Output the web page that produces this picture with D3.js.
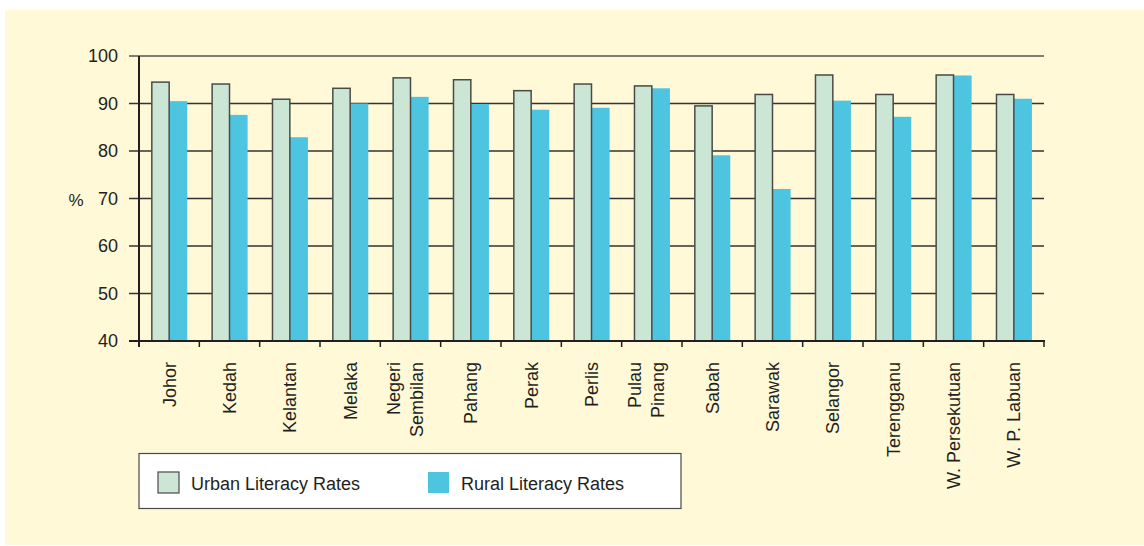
<!DOCTYPE html>
<html>
<head>
<meta charset="utf-8">
<script src="https://cdn.jsdelivr.net/npm/d3@7"></script>
<style>
  html, body { margin: 0; padding: 0; background: #ffffff; }
  svg text { font-family: "Liberation Sans", Arial, sans-serif; fill: #231f20; }
</style>
</head>
<body>
<script>
// literacy rates by state
var states = ["Johor", "Kedah", "Kelantan", "Melaka", "Negeri Sembilan", "Pahang", "Perak",
  "Perlis", "Pulau Pinang", "Sabah", "Sarawak", "Selangor", "Terengganu", "W. Persekutuan", "W. P. Labuan"];
var urban = [94.5, 94.1, 90.9, 93.2, 95.4, 95.0, 92.7, 94.1, 93.7, 89.5, 91.9, 96.0, 91.9, 96.0, 91.9];
var rural = [90.5, 87.6, 82.9, 90.0, 91.4, 89.9, 88.7, 89.1, 93.2, 79.1, 72.0, 90.6, 87.2, 95.9, 91.0];
var yTicks = [40, 50, 60, 70, 80, 90, 100];
var series = ["Urban Literacy Rates", "Rural Literacy Rates"];

var W = 1144, H = 546;
var plotLeft = 139, plotRight = 1044, plotTop = 56, plotBottom = 341;
var urbanFill = "#cce6d5", ruralFill = "#4dc4e0";

var svg = d3.select("body").append("svg")
    .attr("width", W)
    .attr("height", H);

// cream panel
svg.append("rect")
    .attr("x", 5).attr("y", 10)
    .attr("width", W - 5).attr("height", 535)
    .attr("fill", "#fff9d7");

var x = d3.scaleBand()
    .domain(states)
    .range([plotLeft, plotRight])
    .paddingInner(0.4)
    .paddingOuter(0.2);

var xSub = d3.scaleBand()
    .domain(["urban", "rural"])
    .range([0, x.bandwidth()]);

var y = d3.scaleLinear()
    .domain([40, 100])
    .range([plotBottom, plotTop]);

// gridlines (with the little outward tick on the left)
svg.append("g").selectAll("line")
    .data(yTicks)
    .enter().append("line")
    .attr("x1", plotLeft - 10).attr("x2", plotRight)
    .attr("y1", function(d) { return y(d); })
    .attr("y2", function(d) { return y(d); })
    .attr("stroke", function(d) { return d == 100 ? "#555" : "#333"; })
    .attr("stroke-width", 1.5);

// y labels
var yAxis = svg.append("g")
    .attr("transform", "translate(" + plotLeft + ",0)")
    .call(d3.axisLeft(y).tickValues(yTicks).tickSize(10).tickPadding(11));
yAxis.select(".domain").remove();
yAxis.selectAll("line").remove();
yAxis.selectAll("text")
    .style("font-family", "'Liberation Sans', Arial, sans-serif")
    .style("font-size", "18px")
    .attr("fill", "#231f20");

svg.append("text")
    .attr("x", 76).attr("y", 206)
    .attr("text-anchor", "middle")
    .style("font-size", "17px")
    .text("%");

// bars
var rows = states.map(function(s, i) { return {state: s, urban: urban[i], rural: rural[i]}; });

var group = svg.append("g").selectAll("g")
    .data(rows)
    .enter().append("g")
    .attr("transform", function(d) { return "translate(" + x(d.state) + ",0)"; });

group.append("rect")
    .attr("x", xSub("rural"))
    .attr("width", xSub.bandwidth())
    .attr("y", function(d) { return y(d.rural); })
    .attr("height", function(d) { return plotBottom - y(d.rural); })
    .attr("fill", ruralFill);

group.append("rect")
    .attr("x", xSub("urban") + 0.75)
    .attr("width", xSub.bandwidth() - 0.75)
    .attr("y", function(d) { return y(d.urban); })
    .attr("height", function(d) { return plotBottom - y(d.urban); })
    .attr("fill", urbanFill)
    .attr("stroke", "#4a4a48")
    .attr("stroke-width", 1.5);

// axes lines
svg.append("line")
    .attr("x1", plotLeft).attr("x2", plotLeft)
    .attr("y1", plotTop).attr("y2", plotBottom + 6)
    .attr("stroke", "#231f20").attr("stroke-width", 2);

svg.append("line")
    .attr("x1", plotLeft - 10).attr("x2", plotRight + 1)
    .attr("y1", plotBottom).attr("y2", plotBottom)
    .attr("stroke", "#231f20").attr("stroke-width", 2);

var half = x.step() * x.paddingInner() / 2;
var tickXs = states.map(function(s) { return x(s) - half; }).concat([plotRight]);
svg.append("g").selectAll("line")
    .data(tickXs)
    .enter().append("line")
    .attr("x1", function(d) { return d; })
    .attr("x2", function(d) { return d; })
    .attr("y1", plotBottom).attr("y2", plotBottom + 6)
    .attr("stroke", "#231f20").attr("stroke-width", 1.5);

// rotated category labels, two-word ones on two lines
var twoLine = ["Negeri Sembilan", "Pulau Pinang"];
states.forEach(function(s) {
  var cx = x(s) + x.bandwidth() / 2;
  var lines = twoLine.indexOf(s) >= 0 ? s.split(" ") : [s];
  var offs = lines.length == 2 ? [-17, 6] : [0];
  lines.forEach(function(t, i) {
    svg.append("text")
        .attr("transform", "translate(" + (cx + offs[i]) + "," + 362 + ") rotate(-90)")
        .attr("text-anchor", "end")
        .attr("dy", "0.36em")
        .style("font-size", "18px")
        .text(t);
  });
});

// legend
var lg = svg.append("g");
lg.append("rect")
    .attr("x", 139).attr("y", 453.5)
    .attr("width", 542).attr("height", 55)
    .attr("fill", "#ffffff")
    .attr("stroke", "#4a4a48")
    .attr("stroke-width", 1.2);

var legX = [158, 428];
series.forEach(function(name, i) {
  lg.append("rect")
      .attr("x", legX[i]).attr("y", 472)
      .attr("width", 21).attr("height", 21)
      .attr("fill", i == 0 ? urbanFill : ruralFill)
      .attr("stroke", i == 0 ? "#4a4a48" : "none")
      .attr("stroke-width", 1.2);
  lg.append("text")
      .attr("x", legX[i] + 33).attr("y", 490)
      .style("font-size", "18px")
      .text(name);
});
</script>
</body>
</html>
